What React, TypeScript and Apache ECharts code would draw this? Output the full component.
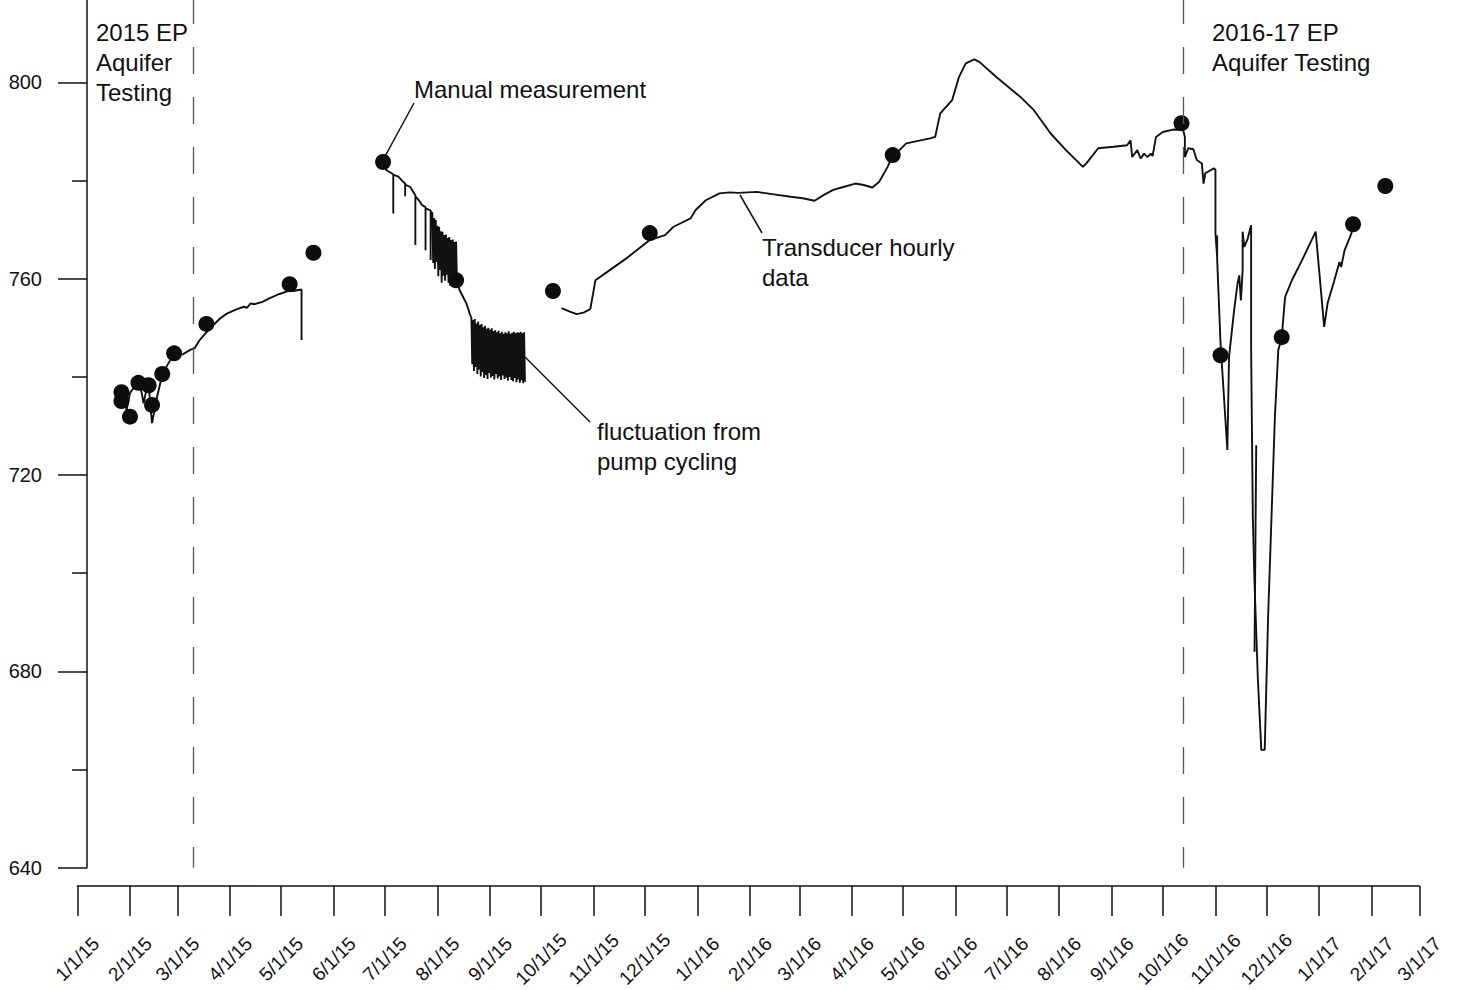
import React, { useEffect, useRef } from "react";
import * as echarts from "echarts";

const FONT = '"Liberation Sans", Arial, Helvetica, sans-serif';
const INK = "#111";

// ---------- axis definitions ----------
const xTickLabels = [
  "1/1/15", "2/1/15", "3/1/15", "4/1/15", "5/1/15", "6/1/15", "7/1/15", "8/1/15", "9/1/15",
  "10/1/15", "11/1/15", "12/1/15", "1/1/16", "2/1/16", "3/1/16", "4/1/16", "5/1/16", "6/1/16",
  "7/1/16", "8/1/16", "9/1/16", "10/1/16", "11/1/16", "12/1/16", "1/1/17", "2/1/17", "3/1/17",
];
const yTickValues = [640, 680, 720, 760, 800];
const yMinorTickValues = [660, 700, 740, 780];
const Y_MIN = 640;
const Y_MAX = 816.8;

// start dates of the two aquifer testing periods (dashed lines)
const testingStartDates = ["2015-03-10", "2016-10-13"];

// ---------- data ----------
const manualMeasurements: [string, number][] = [
  ["2015-01-27", 735.1], ["2015-01-27", 736.9], ["2015-02-01", 731.9], ["2015-02-06", 738.8],
  ["2015-02-12", 738.3], ["2015-02-14", 734.3], ["2015-02-20", 740.6], ["2015-02-27", 744.8],
  ["2015-03-18", 750.8], ["2015-05-06", 758.9], ["2015-05-20", 765.3], ["2015-06-30", 783.8],
  ["2015-08-12", 759.7], ["2015-10-08", 757.5], ["2015-12-04", 769.3], ["2016-04-25", 785.2],
  ["2016-10-12", 791.7], ["2016-11-04", 744.4], ["2016-12-10", 748.1], ["2017-01-21", 771.1],
  ["2017-02-09", 778.9],
];

const transducerSpring2015: [string, number][] = [
  ["2015-01-27", 736.3], ["2015-01-29", 735.3], ["2015-01-30", 733.2], ["2015-02-01", 736.7],
  ["2015-02-03", 737.7], ["2015-02-06", 739.0], ["2015-02-08", 736.6], ["2015-02-09", 734.6],
  ["2015-02-10", 736.3], ["2015-02-12", 738.7], ["2015-02-13", 734.3], ["2015-02-14", 730.6],
  ["2015-02-17", 736.0], ["2015-02-20", 740.4], ["2015-02-23", 742.4], ["2015-02-27", 744.8],
  ["2015-03-04", 744.6], ["2015-03-09", 745.6], ["2015-03-11", 745.8], ["2015-03-14", 747.5],
  ["2015-03-19", 749.5], ["2015-03-26", 751.9], ["2015-03-30", 752.9], ["2015-04-05", 753.8],
  ["2015-04-09", 754.3], ["2015-04-11", 754.1], ["2015-04-13", 755.0], ["2015-04-15", 754.8],
  ["2015-04-20", 755.3], ["2015-04-24", 756.0], ["2015-04-30", 756.9], ["2015-05-05", 757.5],
  ["2015-05-08", 757.5], ["2015-05-13", 757.8], ["2015-05-13", 747.5],
];

const transducerSummer2015: [string, number][] = [
  ["2015-06-30", 783.8], ["2015-07-02", 782.1], ["2015-07-05", 781.5], ["2015-07-06", 781.3],
  ["2015-07-06", 773.3], ["2015-07-06", 781.2], ["2015-07-09", 780.8], ["2015-07-12", 779.7],
  ["2015-07-13", 779.4], ["2015-07-13", 776.8], ["2015-07-13", 779.2], ["2015-07-16", 778.7],
  ["2015-07-19", 777.0], ["2015-07-19", 766.9], ["2015-07-19", 776.8], ["2015-07-21", 776.0],
  ["2015-07-23", 775.0], ["2015-07-25", 774.6], ["2015-07-25", 765.8], ["2015-07-25", 774.4],
  ["2015-07-28", 773.9], ["2015-07-28", 763.8], ["2015-07-28", 773.7],
];

// pump cycling: daily high / low water levels
const pumpCycling1Start = "2015-07-29";
const pumpCycling1High = [773.4, 772.4, 772.0, 770.8, 770.6, 769.7, 769.6, 768.9, 769.0, 768.3, 768.5, 767.9, 768.0, 767.5, 767.6];
const pumpCycling1Low = [763.2, 762.0, 763.4, 760.5, 761.8, 759.2, 760.6, 759.6, 760.8, 759.2, 758.6, 759.8, 758.4, 759.3, 758.6];

const transducerAug2015: [string, number][] = [
  ["2015-08-13", 759.0], ["2015-08-14", 757.7], ["2015-08-18", 755.0], ["2015-08-20", 752.9],
];

const pumpCycling2Start = "2015-08-21";
const pumpCycling2High = [
  752.0, 751.6, 751.8, 750.9, 751.3, 750.6, 750.8, 750.1, 750.4, 749.8, 750.0, 749.6, 749.9, 749.3, 749.5, 749.1,
  749.4, 748.9, 749.2, 748.8, 749.1, 748.9, 749.3, 748.8, 749.0, 749.2, 748.9, 749.1, 749.0, 749.2, 748.9, 749.1,
];
const pumpCycling2Low = [
  742.6, 741.2, 742.0, 740.6, 741.5, 740.1, 741.0, 739.8, 740.4, 739.6, 740.8, 739.9, 740.2, 739.5, 740.6, 739.7,
  740.1, 739.4, 740.3, 739.6, 739.9, 739.2, 740.0, 739.4, 739.1, 739.8, 738.9, 739.5, 738.8, 739.3, 738.7, 739.0,
];

const transducer2015to2017: [string, number][] = [
  ["2015-10-13", 754.0], ["2015-10-18", 753.3], ["2015-10-22", 752.8], ["2015-10-26", 753.1],
  ["2015-10-30", 753.8], ["2015-11-02", 759.7], ["2015-11-09", 761.4], ["2015-11-20", 764.1],
  ["2015-12-04", 767.9], ["2015-12-13", 768.9], ["2015-12-18", 770.6], ["2015-12-28", 772.3],
  ["2015-12-31", 774.0], ["2016-01-06", 776.0], ["2016-01-14", 777.4], ["2016-01-20", 777.6],
  ["2016-01-25", 777.5], ["2016-02-05", 777.7], ["2016-02-15", 777.2], ["2016-02-25", 776.7],
  ["2016-03-03", 776.4], ["2016-03-10", 775.9], ["2016-03-15", 777.0], ["2016-03-21", 778.1],
  ["2016-03-27", 778.7], ["2016-04-03", 779.4], ["2016-04-08", 779.1], ["2016-04-13", 778.6],
  ["2016-04-17", 779.7], ["2016-04-22", 782.8], ["2016-04-25", 785.2], ["2016-04-29", 786.2],
  ["2016-05-03", 787.6], ["2016-05-17", 788.6], ["2016-05-20", 788.9], ["2016-05-23", 793.7],
  ["2016-05-30", 796.4], ["2016-06-03", 801.1], ["2016-06-07", 803.9], ["2016-06-12", 804.7],
  ["2016-06-15", 804.2], ["2016-06-25", 801.1], ["2016-07-09", 797.1], ["2016-07-17", 794.4],
  ["2016-07-27", 789.6], ["2016-08-05", 786.2], ["2016-08-15", 782.8], ["2016-08-17", 783.5],
  ["2016-08-24", 786.6], ["2016-09-02", 786.9], ["2016-09-10", 787.2], ["2016-09-12", 788.2],
  ["2016-09-13", 784.8], ["2016-09-16", 786.2], ["2016-09-18", 784.5], ["2016-09-20", 785.5],
  ["2016-09-22", 784.8], ["2016-09-24", 785.5], ["2016-09-25", 785.0], ["2016-09-27", 788.9],
  ["2016-10-01", 789.9], ["2016-10-07", 790.4], ["2016-10-13", 790.3], ["2016-10-14", 788.9],
  ["2016-10-14", 784.8], ["2016-10-16", 786.6], ["2016-10-19", 786.4], ["2016-10-21", 784.2],
  ["2016-10-24", 783.5], ["2016-10-25", 779.4], ["2016-10-26", 781.5], ["2016-10-31", 782.5],
  ["2016-11-01", 782.2], ["2016-11-01", 769.3], ["2016-11-02", 764.4], ["2016-11-02", 768.8],
  ["2016-11-02", 764.0], ["2016-11-04", 746.8], ["2016-11-08", 725.1], ["2016-11-09", 744.1],
  ["2016-11-12", 753.6], ["2016-11-14", 759.0], ["2016-11-15", 760.7], ["2016-11-16", 755.6],
  ["2016-11-17", 761.8], ["2016-11-17", 769.6], ["2016-11-18", 766.5], ["2016-11-20", 768.2],
  ["2016-11-22", 770.9], ["2016-11-22", 745.5], ["2016-11-23", 711.5], ["2016-11-24", 698.0],
  ["2016-11-26", 678.2], ["2016-11-28", 664.0], ["2016-11-30", 664.0], ["2016-12-02", 691.1],
  ["2016-12-04", 711.5], ["2016-12-06", 731.9], ["2016-12-08", 745.5], ["2016-12-10", 748.0],
  ["2016-12-12", 756.3], ["2016-12-16", 759.7], ["2016-12-22", 763.8], ["2016-12-30", 769.6],
  ["2017-01-04", 750.2], ["2017-01-06", 755.0], ["2017-01-10", 759.7], ["2017-01-13", 763.4],
  ["2017-01-14", 762.4], ["2017-01-16", 765.8], ["2017-01-20", 769.2], ["2017-01-21", 771.1],
];

const transducerSpikeNov2016: [string, number][] = [["2016-11-25", 726.1], ["2016-11-24", 684.0]];

// ---------- helpers ----------
const START = Date.UTC(2015, 0, 1);
const DAY = 86400000;
function isoToDay(s: string): number {
  const [date, hh] = s.split(" ");
  const [y, m, d] = date.split("-").map(Number);
  return (Date.UTC(y, m - 1, d) - START) / DAY + (hh ? Number(hh) / 24 : 0);
}
function mdyToDay(s: string): number {
  const [m, d, y] = s.split("/").map(Number);
  return (Date.UTC(2000 + y, m - 1, d) - START) / DAY;
}
const pt = ([d, v]: [string, number]) => [isoToDay(d), v];
const zigzag = (start: string, highs: number[], lows: number[]) =>
  highs.flatMap((h, i) => [
    [isoToDay(start) + i, h],
    [isoToDay(start) + i + 0.5, lows[i]],
  ]);

const xTickDays = xTickLabels.map(mdyToDay);
const labelByDay = new Map(xTickLabels.map((l) => [mdyToDay(l), l]));

export default function App() {
  const ref = useRef<HTMLDivElement>(null);

  useEffect(() => {
    if (!ref.current) return;
    const chart = echarts.init(ref.current, undefined, { renderer: "svg" });
    const lineStyle = { color: INK, width: 1.9, opacity: 1 };
    const lineBase = {
      type: "line" as const,
      showSymbol: false,
      symbol: "none",
      lineStyle,
      silent: true,
      z: 2,
    };
    const annot = { fill: INK, fontSize: 24, fontFamily: FONT, lineHeight: 30, verticalAlign: "top" };

    chart.setOption({
      animation: false,
      backgroundColor: "#fff",
      textStyle: { fontFamily: FONT },
      grid: {
        left: 77.3,
        right: 37.7,
        top: 0,
        bottom: 122.3,
        containLabel: false,
        outerBoundsMode: "none",
      },
      xAxis: {
        type: "value",
        min: xTickDays[0],
        max: xTickDays[xTickDays.length - 1],
        position: "bottom",
        offset: 18.3,
        axisLine: { show: true, lineStyle: { color: INK, width: 1.5 } },
        axisTick: {
          show: true,
          customValues: xTickDays,
          length: 30,
          lineStyle: { color: INK, width: 1.5 },
        },
        axisLabel: {
          customValues: xTickDays,
          formatter: (v: number) => labelByDay.get(Math.round(v)) ?? "",
          rotate: 45,
          align: "center",
          verticalAlign: "middle",
          margin: 73,
          fontSize: 19,
          fontFamily: FONT,
          color: INK,
        },
        splitLine: { show: false },
      },
      yAxis: [
        {
          type: "value",
          min: Y_MIN,
          max: Y_MAX,
          position: "left",
          offset: -9.7,
          axisLine: { show: true, lineStyle: { color: INK, width: 1.5 } },
          axisTick: {
            show: true,
            customValues: yTickValues,
            length: 29,
            lineStyle: { color: INK, width: 1.5 },
          },
          axisLabel: {
            customValues: yTickValues,
            margin: 45,
            fontSize: 20,
            fontFamily: FONT,
            color: INK,
          },
          splitLine: { show: false },
        },
        {
          type: "value",
          min: Y_MIN,
          max: Y_MAX,
          position: "left",
          offset: -9.7,
          axisLine: { show: false },
          axisTick: {
            show: true,
            customValues: yMinorTickValues,
            length: 15,
            lineStyle: { color: INK, width: 1.5 },
          },
          axisLabel: { show: false },
          splitLine: { show: false },
        },
      ],
      series: [
        { ...lineBase, name: "Transducer spring 2015", data: transducerSpring2015.map(pt) },
        {
          ...lineBase,
          name: "Transducer summer 2015",
          data: [
            ...transducerSummer2015.map(pt),
            ...zigzag(pumpCycling1Start, pumpCycling1High, pumpCycling1Low),
            ...transducerAug2015.map(pt),
            ...zigzag(pumpCycling2Start, pumpCycling2High, pumpCycling2Low),
          ],
        },
        { ...lineBase, name: "Transducer 2015-2017", data: transducer2015to2017.map(pt) },
        { ...lineBase, name: "Transducer spike", data: transducerSpikeNov2016.map(pt) },
        {
          type: "scatter",
          name: "Manual measurement",
          data: manualMeasurements.map(pt),
          symbol: "circle",
          symbolSize: 16,
          itemStyle: { color: "#0d0d0d", opacity: 1 },
          silent: true,
          z: 3,
          markLine: {
            silent: true,
            symbol: ["none", "none"],
            label: { show: false },
            lineStyle: { color: "#555", width: 1.3, type: [27, 23], dashOffset: 3, opacity: 1 },
            data: testingStartDates.map((d) => [
              { coord: [isoToDay(d), Y_MAX] },
              { coord: [isoToDay(d), Y_MIN] },
            ]),
          },
        },
      ],
      graphic: [
        { type: "text", x: 96, y: 17, style: { ...annot, text: "2015 EP\nAquifer\nTesting" } },
        { type: "text", x: 1212, y: 17, style: { ...annot, text: "2016-17 EP\nAquifer Testing" } },
        { type: "text", x: 414, y: 74, style: { ...annot, text: "Manual measurement" } },
        { type: "text", x: 762, y: 232, style: { ...annot, text: "Transducer hourly\ndata" } },
        { type: "text", x: 597, y: 416, style: { ...annot, text: "fluctuation from\npump cycling" } },
        { type: "line", shape: { x1: 383, y1: 160, x2: 414, y2: 103 }, style: { stroke: INK, lineWidth: 1.5 } },
        { type: "line", shape: { x1: 740, y1: 195, x2: 762, y2: 233 }, style: { stroke: INK, lineWidth: 1.5 } },
        { type: "line", shape: { x1: 525, y1: 357, x2: 590, y2: 422 }, style: { stroke: INK, lineWidth: 1.5 } },
      ],
    });

    return () => chart.dispose();
  }, []);

  return (
    <div
      ref={ref}
      style={{ position: "fixed", left: 0, top: 0, width: 1457, height: 990, background: "#fff" }}
    />
  );
}
